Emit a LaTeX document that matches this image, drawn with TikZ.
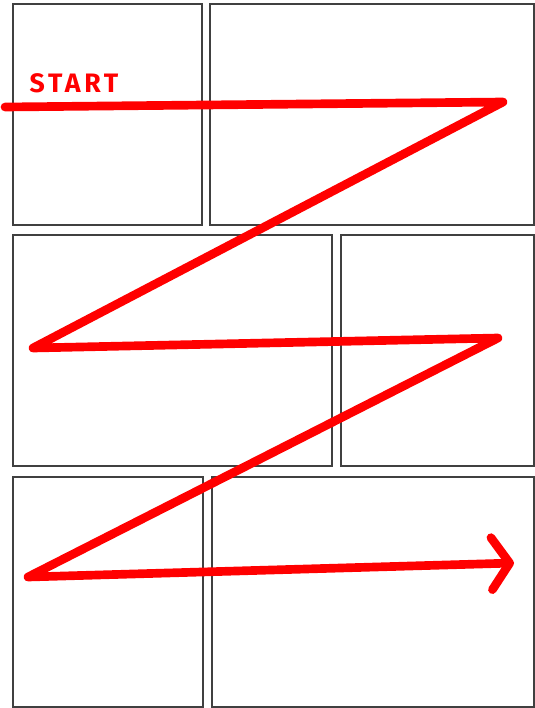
\documentclass[tikz,border=0pt]{standalone}
\usepackage{fontspec}
\newfontfamily\startfont[LetterSpace=14]{Fira Sans}
\usetikzlibrary{arrows.meta}

\begin{document}
\begin{tikzpicture}[
  x=0.75pt, y=-0.75pt,
  panel/.style={draw=black!75, line width=1.1pt, fill=white},
  zigzag/.style={draw=red, line width=6.5pt, line cap=round, line join=round},
  lbl/.style={text=red, font=\startfont\bfseries\fontsize{20}{20}\selectfont, inner sep=0pt}
]
\useasboundingbox (0,0) rectangle (535,708);

% panels, row by row
\draw[panel] (13,4) rectangle (202,225);
\draw[panel] (210,4) rectangle (534,225);
\draw[panel] (13,235) rectangle (332,466);
\draw[panel] (341,235) rectangle (534,466);
\draw[panel] (13,477) rectangle (203,707);
\draw[panel] (212,477) rectangle (534,707);

% reading path
\coordinate (p0) at (5,107);
\coordinate (p1) at (503,102);
\coordinate (p2) at (33,348);
\coordinate (p3) at (498,338);
\coordinate (p4) at (28,577);
\coordinate (p5) at (514,563);
\node[lbl] (start) at (74,83) {START};

\draw[zigzag, -{Straight Barb[round, length=13.5pt, width=39pt]}]
  (p0) -- (p1) -- (p2) -- (p3) -- (p4) -- (p5);

\end{tikzpicture}
\end{document}
